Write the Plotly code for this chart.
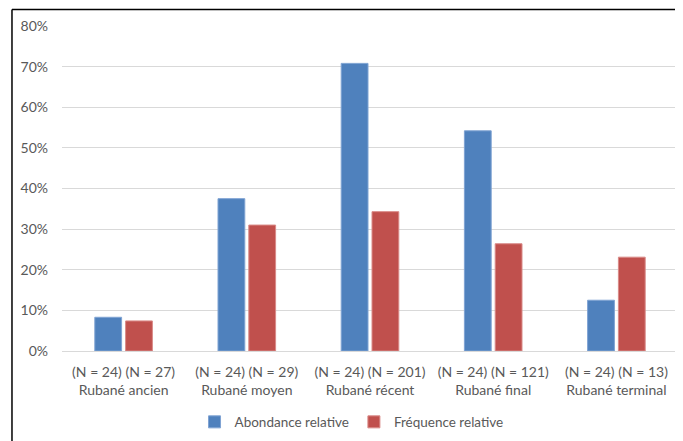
import plotly.graph_objects as go

periods = ["Rubané ancien", "Rubané moyen", "Rubané récent", "Rubané final", "Rubané terminal"]
n_abondance = [24, 24, 24, 24, 24]
n_frequence = [27, 29, 201, 121, 13]
abondance = [8.3, 37.5, 70.8, 54.2, 12.5]
frequence = [7.4, 31.0, 34.3, 26.4, 23.1]

labels = [f"(N = {a}) (N = {f})<br>{p}" for p, a, f in zip(periods, n_abondance, n_frequence)]

font = dict(family="Lato, Open Sans, sans-serif", size=14, color="#595959")
legend_font = dict(family="Lato, Open Sans, sans-serif", size=13.5, color="#595959")

fig = go.Figure()
fig.add_trace(go.Bar(
    x=labels, y=abondance, name="Abondance relative",
    marker=dict(color="#4F81BD", line=dict(color="#7FA3D3", width=1)),
))
fig.add_trace(go.Bar(
    x=labels, y=frequence, name="Fréquence relative",
    marker=dict(color="#C0504D", line=dict(color="#D98A88", width=1)),
))

# outer frame of the original chart: only the left and top edges are visible
frame = dict(color="#000000", width=1.5)

# page body has an 8px margin, so the figure is sized to fit the window
fig.update_layout(
    width=675, height=433,
    margin=dict(l=54, r=5, t=18, b=89),
    paper_bgcolor="white", plot_bgcolor="white",
    font=font,
    barmode="group", bargap=0.5, bargroupgap=0.13,
    showlegend=True,
    legend=dict(orientation="h", x=0.47, xanchor="center", y=-0.215, yanchor="middle",
                font=legend_font, traceorder="normal", itemwidth=30),
    xaxis=dict(showgrid=False, showline=True, linecolor="#D9D9D9", linewidth=1,
               ticks="", tickfont=font, ticklabelstandoff=8),
    yaxis=dict(range=[0, 80], dtick=10, ticksuffix="%", showgrid=True,
               gridcolor="#D9D9D9", gridwidth=1, zeroline=False, showline=False,
               ticks="", ticklabelstandoff=13, tickfont=font),
    shapes=[
        dict(type="line", xref="paper", yref="paper",
             x0=-0.0812, x1=-0.0812, y0=-0.6, y1=1.051, line=frame),
        dict(type="line", xref="paper", yref="paper",
             x0=-0.0812, x1=1.05, y0=1.051, y1=1.051, line=frame),
    ],
)

fig.write_html("out.html")
